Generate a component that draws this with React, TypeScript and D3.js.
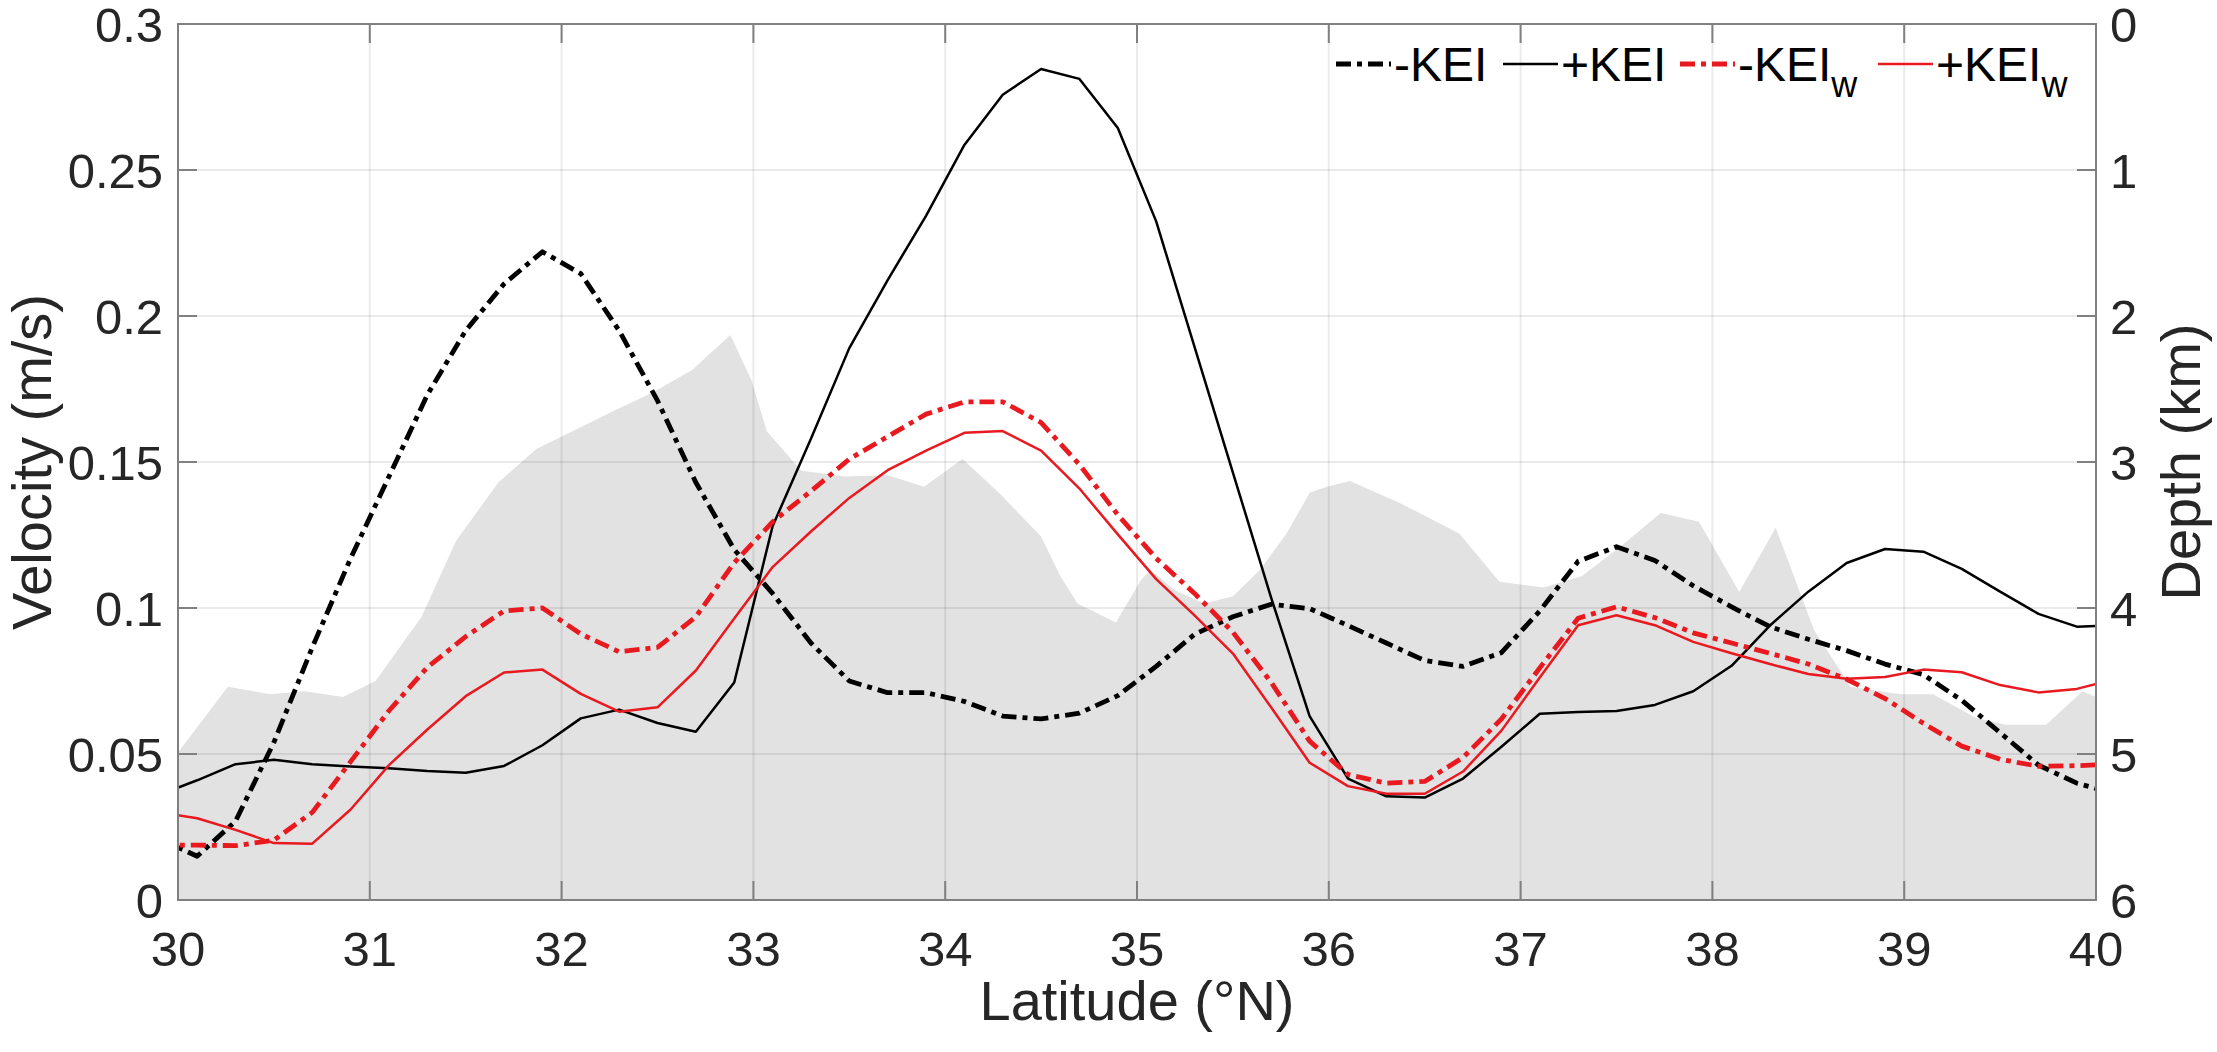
import * as d3 from 'd3'

// latitude of the sampled points (°N)
const LAT = [
  29.9, 30.1, 30.3, 30.5, 30.7, 30.9, 31.1, 31.3, 31.5, 31.7, 31.9, 32.1, 32.3,
  32.5, 32.7, 32.9, 33.1, 33.3, 33.5, 33.7, 33.9, 34.1, 34.3, 34.5, 34.7, 34.9,
  35.1, 35.3, 35.5, 35.7, 35.9, 36.1, 36.3, 36.5, 36.7, 36.9, 37.1, 37.3, 37.5,
  37.7, 37.9, 38.1, 38.3, 38.5, 38.7, 38.9, 39.1, 39.3, 39.5, 39.7, 39.9, 40.1,
]

// velocity (m/s)
const KEI_NEG = [
  0.021, 0.015, 0.027, 0.054, 0.0865, 0.117, 0.145, 0.173, 0.195, 0.211, 0.222, 0.2145, 0.195,
  0.171, 0.143, 0.12, 0.105, 0.088, 0.075, 0.071, 0.071, 0.068, 0.063, 0.062, 0.064, 0.07,
  0.08, 0.091, 0.097, 0.1013, 0.0998, 0.094, 0.088, 0.082, 0.08, 0.0847, 0.099, 0.116, 0.121,
  0.1163, 0.1076, 0.1004, 0.0936, 0.0893, 0.0854, 0.0808, 0.0772, 0.0684, 0.0573, 0.0462, 0.04, 0.0364,
]
const KEI_POS = [
  0.036, 0.041, 0.0465, 0.048, 0.0465, 0.0457, 0.0451, 0.0442, 0.0436, 0.0459, 0.053, 0.0622, 0.0652,
  0.0606, 0.0576, 0.0745, 0.128, 0.158, 0.189, 0.2123, 0.2343, 0.2586, 0.2758, 0.2846, 0.2812, 0.2644,
  0.2324, 0.1894, 0.1464, 0.1034, 0.063, 0.0416, 0.0355, 0.0351, 0.0416, 0.0525, 0.0638, 0.0644, 0.0647,
  0.0668, 0.0715, 0.0802, 0.094, 0.1056, 0.1154, 0.1202, 0.1193, 0.1134, 0.1056, 0.098, 0.0936, 0.094,
]
const KEIW_NEG = [
  0.0188, 0.0188, 0.0186, 0.0205, 0.03, 0.0474, 0.0648, 0.0797, 0.0902, 0.099, 0.1, 0.0911, 0.085,
  0.0865, 0.097, 0.1155, 0.1295, 0.14, 0.151, 0.1587, 0.1664, 0.1706, 0.1706, 0.1635, 0.1491, 0.1319,
  0.117, 0.105, 0.0917, 0.0745, 0.0544, 0.043, 0.04, 0.0406, 0.0488, 0.062, 0.0795, 0.0965, 0.1004,
  0.0967, 0.0915, 0.088, 0.0845, 0.0808, 0.0756, 0.069, 0.0605, 0.0527, 0.0482, 0.0458, 0.046, 0.0465,
]
const KEIW_POS = [
  0.03, 0.028, 0.024, 0.0195, 0.0193, 0.031, 0.0462, 0.0584, 0.0698, 0.0779, 0.0789, 0.0706, 0.0645,
  0.066, 0.0786, 0.0964, 0.114, 0.1262, 0.1377, 0.1472, 0.1539, 0.16, 0.1606, 0.1539, 0.1409, 0.1252,
  0.1099, 0.0975, 0.0844, 0.0659, 0.047, 0.039, 0.0364, 0.0364, 0.044, 0.058, 0.0762, 0.0941, 0.0975,
  0.0941, 0.0884, 0.0845, 0.0808, 0.0774, 0.0758, 0.0764, 0.0789, 0.078, 0.0736, 0.0711, 0.0723, 0.0756,
]

// bottom topography (km)
const BATHY_LAT = [
  30.0, 30.26, 30.48, 30.66, 30.86, 31.03, 31.27, 31.45, 31.67, 31.87, 32.07, 32.27, 32.48, 32.68,
  32.88, 32.99, 33.07, 33.25, 33.48, 33.7, 33.89, 34.09, 34.28, 34.5, 34.6, 34.69, 34.89, 35.02,
  35.07, 35.2, 35.35, 35.5, 35.64, 35.78, 35.9, 35.99, 36.11, 36.37, 36.68, 36.89, 37.12, 37.32,
  37.52, 37.73, 37.93, 38.14, 38.33, 38.53, 38.72, 38.98, 39.15, 39.37, 39.53, 39.74, 39.93, 40.0,
]
const BATHY_DEPTH = [
  4.99, 4.54, 4.59, 4.57, 4.61, 4.5, 4.06, 3.54, 3.14, 2.91, 2.78, 2.65, 2.52, 2.37,
  2.13, 2.44, 2.79, 3.06, 3.1, 3.09, 3.17, 2.98, 3.21, 3.51, 3.78, 3.97, 4.1, 3.81,
  3.74, 3.88, 3.97, 3.92, 3.74, 3.49, 3.21, 3.17, 3.13, 3.28, 3.49, 3.82, 3.86, 3.78,
  3.58, 3.35, 3.41, 3.89, 3.45, 4.15, 4.54, 4.59, 4.59, 4.75, 4.8, 4.8, 4.57, 4.61,
]

const X_TICKS = [30, 31, 32, 33, 34, 35, 36, 37, 38, 39, 40]
const V_TICKS = [0, 0.05, 0.1, 0.15, 0.2, 0.25, 0.3]
const D_TICKS = [0, 1, 2, 3, 4, 5, 6]

const W = 2217, H = 1052
const L = 178, R = 2096, T = 24, B = 900
const RED = '#e8191f'
const DASHDOT = '15,6,5,6'
const FONT = '"Liberation Sans", Arial, Helvetica, sans-serif'
const TICK_FS = 49
const LABEL_FS = 56

const series = [
  { key: 'kn', label: '-KEI', sub: '', values: KEI_NEG, color: '#000', width: 4.8, dash: DASHDOT },
  { key: 'kp', label: '+KEI', sub: '', values: KEI_POS, color: '#000', width: 2.5, dash: null },
  { key: 'wn', label: '-KEI', sub: 'w', values: KEIW_NEG, color: RED, width: 4.8, dash: DASHDOT },
  { key: 'wp', label: '+KEI', sub: 'w', values: KEIW_POS, color: RED, width: 2.5, dash: null },
]
// legend item starts (line sample, then text)
const LEGEND_X = [1336, 1503, 1680, 1878]

export default function App() {
  const x = d3.scaleLinear().domain([30, 40]).range([L, R])
  const y = d3.scaleLinear().domain([0, 0.3]).range([B, T])
  const yd = d3.scaleLinear().domain([0, 6]).range([T, B])

  const bathy = BATHY_LAT.map((la, i) => ({ la, d: BATHY_DEPTH[i] }))
  const area = d3.area<{ la: number; d: number }>()
    .x(p => x(p.la)).y0(yd(6)).y1(p => yd(p.d))

  const line = d3.line<number>()
    .x((_, i) => x(LAT[i])).y(v => y(v))

  const axisColor = '#808080'
  const textColor = '#262626'
  const tickLen = 19

  return (
    <div style={{ position: 'absolute', left: 0, top: 0 }}>
      <svg width={W} height={H} style={{ display: 'block', background: '#fff' }}>
        <defs>
          <clipPath id="plot">
            <rect x={L} y={T} width={R - L} height={B - T} />
          </clipPath>
        </defs>

        <g clipPath="url(#plot)">
          <path d={area(bathy) ?? ''} fill="#e2e2e2" />

          {/* grid */}
          {X_TICKS.slice(1, -1).map(t => (
            <line key={'gx' + t} x1={x(t)} x2={x(t)} y1={T} y2={B}
              stroke="#000" strokeOpacity={0.08} strokeWidth={2} />
          ))}
          {V_TICKS.slice(1, -1).map(t => (
            <line key={'gy' + t} x1={L} x2={R} y1={y(t)} y2={y(t)}
              stroke="#000" strokeOpacity={0.08} strokeWidth={2} />
          ))}

          {series.map(s => (
            <path key={s.key} d={line(s.values) ?? ''} fill="none"
              stroke={s.color} strokeWidth={s.width}
              strokeDasharray={s.dash ?? undefined} strokeLinejoin="round" />
          ))}
        </g>

        {/* box + ticks */}
        <rect x={L} y={T} width={R - L} height={B - T} fill="none" stroke={axisColor} strokeWidth={2} />
        {X_TICKS.map(t => (
          <g key={'tx' + t} stroke={axisColor} strokeWidth={2}>
            <line x1={x(t)} x2={x(t)} y1={B} y2={B - tickLen} />
            <line x1={x(t)} x2={x(t)} y1={T} y2={T + tickLen} />
          </g>
        ))}
        {V_TICKS.map(t => (
          <line key={'tv' + t} x1={L} x2={L + tickLen} y1={y(t)} y2={y(t)} stroke={axisColor} strokeWidth={2} />
        ))}
        {D_TICKS.map(t => (
          <line key={'td' + t} x1={R} x2={R - tickLen} y1={yd(t)} y2={yd(t)} stroke={axisColor} strokeWidth={2} />
        ))}

        {/* tick labels */}
        <g fontFamily={FONT} fontSize={TICK_FS} fill={textColor}>
          {X_TICKS.map(t => (
            <text key={'lx' + t} x={x(t)} y={966} textAnchor="middle">{t}</text>
          ))}
          {V_TICKS.map(t => (
            <text key={'lv' + t} x={163} y={y(t)} dy="0.36em" textAnchor="end">{String(t)}</text>
          ))}
          {D_TICKS.map(t => (
            <text key={'ld' + t} x={2110} y={yd(t)} dy="0.36em" textAnchor="start">{t}</text>
          ))}
        </g>

        {/* axis labels */}
        <g fontFamily={FONT} fontSize={LABEL_FS} fill={textColor}>
          <text x={(L + R) / 2} y={1020} textAnchor="middle">Latitude (°N)</text>
          <text transform={`translate(51,${(T + B) / 2}) rotate(-90)`} textAnchor="middle">Velocity (m/s)</text>
          <text transform={`translate(2200,${(T + B) / 2}) rotate(-90)`} textAnchor="middle">Depth (km)</text>
        </g>

        {/* legend */}
        <g fontFamily={FONT} fontSize={48} fill="#000">
          {series.map((s, i) => {
            const lx = LEGEND_X[i]
            const cy = 64
            return (
              <g key={'lg' + s.key}>
                <line x1={lx} x2={lx + 55} y1={cy} y2={cy} stroke={s.color}
                  strokeWidth={s.width} strokeDasharray={s.dash ?? undefined} />
                <text x={lx + 58} y={cy + 17}>
                  {s.label}
                  {s.sub && <tspan fontSize={36} dy={16}>{s.sub}</tspan>}
                </text>
              </g>
            )
          })}
        </g>
      </svg>
    </div>
  )
}
